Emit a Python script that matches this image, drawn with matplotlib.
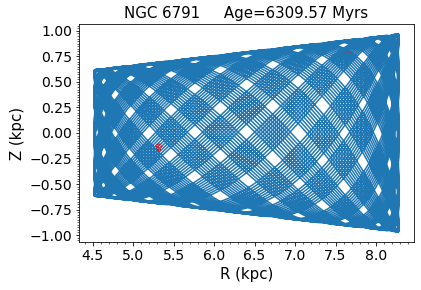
import numpy as np
import matplotlib
matplotlib.use('Agg')
import matplotlib.pyplot as plt
from matplotlib.ticker import MultipleLocator

# orbit parameters (kpc, Myr)
cluster = 'NGC 6791'
age = 6309.57
r_min, r_max = 4.52, 8.28
z_amp_in, z_amp_out = 0.62, 0.97
radial_period = 126.2
freq_ratio = 1.8015  # vertical / radial frequency
z_phase = 0.4

# red marks
mark_r = [5.28, 5.30, 5.32, 5.34, 5.33, 5.31, 5.29, 5.31]
mark_z = [-0.13, -0.11, -0.11, -0.13, -0.16, -0.17, -0.16, -0.14]
trail_r = [7.60, 7.65, 7.70]
trail_z = [0.775, 0.80, 0.78]


def main():
    plt.rc('font', size=14)
    fig = plt.figure(figsize=(421 / 72, 290 / 72), dpi=72)
    ax = fig.add_axes([0.188, 0.166, 0.795, 0.751])

    t = np.linspace(0, age, 80000)
    rc = (r_min + r_max) / 2
    amp = (r_max - r_min) / 2
    R = rc - amp * np.cos(2 * np.pi * t / radial_period)
    zmax = z_amp_in + (R - r_min) * (z_amp_out - z_amp_in) / (r_max - r_min)
    Z = zmax * np.sin(2 * np.pi * freq_ratio * t / radial_period + z_phase)

    ax.plot(R, Z, color='tab:blue')
    ax.plot(mark_r, mark_z, 'r.', ms=2)
    ax.plot(trail_r, trail_z, color='tab:red', lw=1, alpha=0.5)

    ax.set_title(cluster + '     Age=%.2f Myrs' % age, fontsize=15)
    ax.set_xlabel('R (kpc)', fontsize=15)
    ax.set_ylabel('Z (kpc)', fontsize=15)
    ax.minorticks_on()
    ax.set_xticks(np.arange(4.5, 8.01, 0.5))
    ax.set_yticks(np.arange(-1.0, 1.01, 0.25))
    ax.yaxis.set_minor_locator(MultipleLocator(0.025))
    ax.xaxis.set_minor_locator(MultipleLocator(0.1))
    fig.savefig('out.png', dpi=72)


if __name__ == '__main__':
    main()
